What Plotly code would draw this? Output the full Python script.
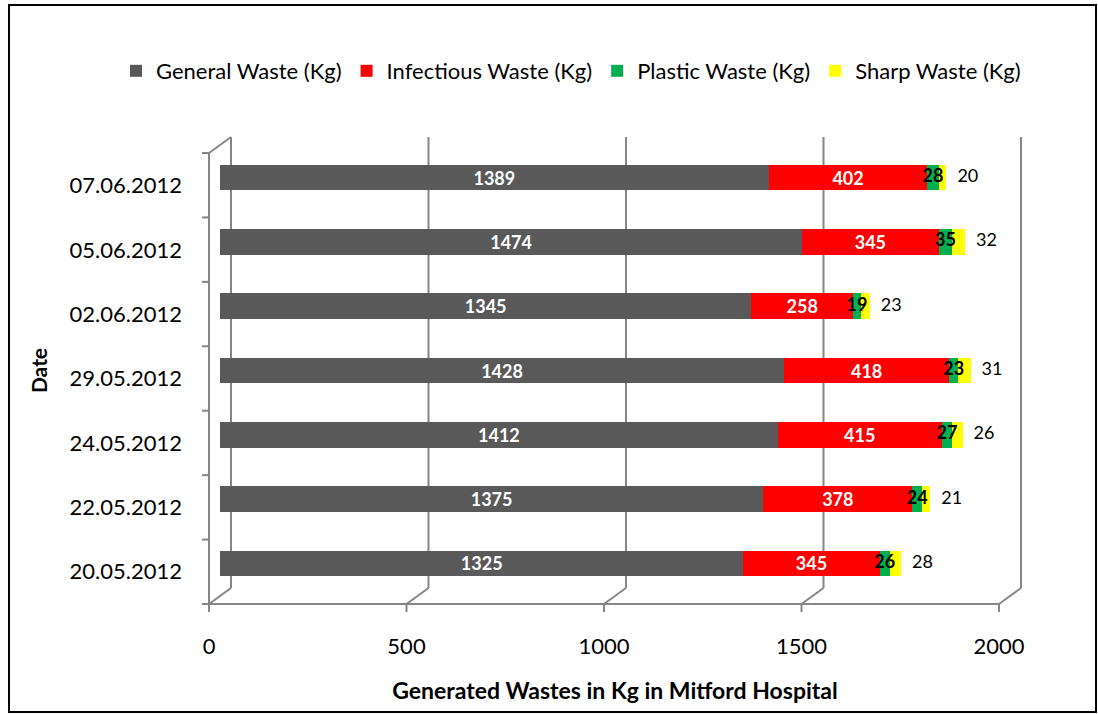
import plotly.graph_objects as go

dates = ["20.05.2012", "22.05.2012", "24.05.2012", "29.05.2012",
         "02.06.2012", "05.06.2012", "07.06.2012"]
general = [1325, 1375, 1412, 1428, 1345, 1474, 1389]
infectious = [345, 378, 415, 418, 258, 345, 402]
plastic = [26, 24, 27, 23, 19, 35, 28]
sharp = [28, 21, 26, 31, 23, 32, 20]
x_ticks = [0, 500, 1000, 1500, 2000]

FONT = "Lato"
W_FIG, H_FIG = 1098, 715
L, T, R, B = 220, 145, 1010, 596      # plot area in pixels (bar plane)
PW, PH = R - L, B - T
XMAX = 2000
DX, DY = 11, 8                        # half depth of the 3D effect

def px(xp):
    return (xp - L) / PW

def py(yp):
    return (B - yp) / PH

def xv(v):
    return L + v / XMAX * PW

fig = go.Figure()

lab = dict(size=18, family=FONT, weight="bold")
series = [
    ("General Waste (Kg)", general, "#595959", dict(color="white", **lab), "inside"),
    ("Infectious Waste (Kg)", infectious, "#FF0000", dict(color="white", **lab), "inside"),
    ("Plastic Waste (Kg)", plastic, "#00B050", None, "none"),
    ("Sharp Waste (Kg)", sharp, "#FFFF00", None, "none"),
]
for name, vals, color, tf, pos in series:
    kw = {}
    if tf is not None:
        kw = dict(text=[str(v) for v in vals], textfont=tf, textangle=0,
                  insidetextanchor="middle")
    fig.add_trace(go.Bar(
        y=dates, x=vals, name=name, orientation="h",
        marker=dict(color=color, line=dict(width=0)),
        width=0.4, textposition=pos, cliponaxis=False, **kw,
    ))

# labels for the thin segments, drawn on top of all bars
plastic_mid = [g + i + p / 2 for g, i, p in zip(general, infectious, plastic)]
totals = [g + i + p + s for g, i, p, s in zip(general, infectious, plastic, sharp)]
fig.add_trace(go.Scatter(
    y=dates, x=plastic_mid, mode="text", text=[str(v) for v in plastic],
    textposition="middle center", showlegend=False, hoverinfo="skip",
    textfont=dict(color="black", **lab), cliponaxis=False,
))
fig.add_trace(go.Scatter(
    y=dates, x=totals, mode="markers+text", text=[str(v) for v in sharp],
    marker=dict(size=16, opacity=0), textposition="middle right",
    showlegend=False, hoverinfo="skip",
    textfont=dict(color="black", size=18, family=FONT), cliponaxis=False,
))

shapes = []
grid = dict(color="#868686", width=2)
for v in x_ticks:
    xb = xv(v) + DX
    xf = xv(v) - DX
    shapes.append(dict(type="line", xref="paper", yref="paper", layer="below",
                       x0=px(xb), x1=px(xb), y0=py(T - DY), y1=py(B - DY), line=grid))
    shapes.append(dict(type="line", xref="paper", yref="paper", layer="below",
                       x0=px(xb), x1=px(xf), y0=py(B - DY), y1=py(B + DY), line=grid))
    shapes.append(dict(type="line", xref="paper", yref="paper", layer="below",
                       x0=px(xf), x1=px(xf), y0=py(B + DY), y1=py(B + DY + 8), line=grid))
shapes.append(dict(type="line", xref="paper", yref="paper", layer="below",
                   x0=px(xv(0) - DX), x1=px(xv(XMAX) - DX), y0=py(B + DY), y1=py(B + DY), line=grid))
shapes.append(dict(type="line", xref="paper", yref="paper", layer="below",
                   x0=px(L - DX), x1=px(L - DX), y0=py(T + DY), y1=py(B + DY), line=grid))
shapes.append(dict(type="line", xref="paper", yref="paper", layer="below",
                   x0=px(L - DX), x1=px(L + DX), y0=py(T + DY), y1=py(T - DY), line=grid))
n = len(dates)
for i in range(n + 1):
    yp = T + DY + i * PH / n
    shapes.append(dict(type="line", xref="paper", yref="paper", layer="below",
                       x0=px(L - DX - 7), x1=px(L - DX), y0=py(yp), y1=py(yp), line=grid))
shapes.append(dict(type="rect", xref="paper", yref="paper",
                   x0=px(9), x1=px(1096), y0=py(5), y1=py(712),
                   line=dict(color="#000000", width=2), layer="above"))

fig.update_layout(
    width=W_FIG, height=H_FIG,
    margin=dict(l=L, r=W_FIG - R, t=T, b=H_FIG - B, autoexpand=False),
    paper_bgcolor="white", plot_bgcolor="white",
    barmode="stack", bargap=0.6,
    font=dict(family=FONT, size=20, color="#000000"),
    uniformtext=dict(minsize=18, mode="show"),
    legend=dict(orientation="h", xref="paper", yref="paper",
                x=px(116), y=py(71), xanchor="left", yanchor="middle",
                traceorder="normal", font=dict(family=FONT, size=22, color="#000000"),
                itemwidth=30, bgcolor="rgba(0,0,0,0)"),
    xaxis=dict(range=[0, XMAX], tickvals=x_ticks, showgrid=False, zeroline=False,
               showline=False, ticks="", ticklabelshift=-DX, ticklabelstandoff=35,
               tickfont=dict(family=FONT, size=22, color="#000000"),
               title=dict(text="<b>Generated Wastes in Kg in Mitford Hospital</b>",
                          font=dict(family=FONT, size=23, color="#000000"), standoff=24),
               automargin=False, fixedrange=True),
    yaxis=dict(categoryorder="array", categoryarray=dates, showgrid=False, zeroline=False,
               showline=False, ticks="", ticklabelshift=DY, ticklabelstandoff=37,
               tickfont=dict(family=FONT, size=22, color="#000000"),
               title=dict(text="<b>Date</b>", font=dict(family=FONT, size=21, color="#000000"),
                          standoff=16),
               automargin=False, fixedrange=True),
    shapes=shapes,
)

fig.write_html("out.html")
